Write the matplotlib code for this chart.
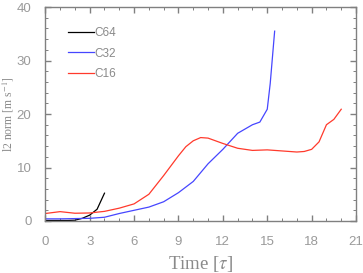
import matplotlib
matplotlib.use("Agg")
import matplotlib.pyplot as plt
from matplotlib.ticker import MultipleLocator

# ---------------- data ----------------
t_c64 = [0, 0.5, 1, 1.5, 2, 2.5, 3, 3.5, 4]
v_c64 = [0.1, 0.1, 0.1, 0.1, 0.15, 0.5, 1.1, 2.2, 5.2]

t_c32 = [0, 1, 2, 3, 4, 5, 6, 7, 8, 9, 10, 11, 12, 13, 14, 14.5, 15, 15.2, 15.5]
v_c32 = [0.4, 0.4, 0.45, 0.5, 0.7, 1.4, 2.0, 2.6, 3.6, 5.3, 7.4, 10.7, 13.4, 16.4, 18.0, 18.5, 20.9, 25.7, 35.5]

t_c16 = [0, 1, 2, 3, 4, 5, 6, 7, 8, 9, 9.5, 10, 10.5, 11, 11.5, 12, 13, 14, 15, 16, 17, 17.5, 18, 18.5, 19, 19.5, 20]
v_c16 = [1.4, 1.75, 1.45, 1.5, 1.8, 2.4, 3.2, 5.0, 8.5, 12.2, 13.9, 15.0, 15.6, 15.5, 15.0, 14.5, 13.6, 13.2,
         13.3, 13.1, 12.9, 13.0, 13.4, 14.8, 18.0, 19.0, 20.9]

x_ticks = [0, 3, 6, 9, 12, 15, 18, 21]
y_ticks = [0, 10, 20, 30, 40]

# ---------------- plot ----------------
plt.rcParams["mathtext.fontset"] = "stix"
grey = "#808080"

fig = plt.figure(figsize=(3.63, 2.73), dpi=100)
ax = fig.add_axes([0.1248, 0.1905, 0.856, 0.7835])

ax.plot(t_c64, v_c64, color="black", lw=0.9, label="C64")
ax.plot(t_c32, v_c32, color="#4646ff", lw=0.9, label="C32")
ax.plot(t_c16, v_c16, color="#ff3a2c", lw=0.9, label="C16")

ax.set_xlim(0, 21)
ax.set_ylim(0, 40)
ax.set_xticks(x_ticks)
ax.set_yticks(y_ticks)
ax.xaxis.set_minor_locator(MultipleLocator(1))
ax.yaxis.set_minor_locator(MultipleLocator(2))

for s in ax.spines.values():
    s.set_color(grey)
    s.set_linewidth(1.0)

ax.tick_params(which="both", direction="in", top=True, right=True, color=grey,
               labelcolor="#9a9a9a", labelsize=9.5)
ax.tick_params(which="major", length=4.5, width=1.0)
ax.tick_params(which="minor", length=2.5, width=0.7)
ax.tick_params(axis="x", pad=11)
ax.tick_params(axis="y", pad=10)
for lab in ax.get_xticklabels() + ax.get_yticklabels():
    lab.set_family("Liberation Sans")

ax.set_xlabel(r"Time [$\tau$]", family="Liberation Serif", fontsize=13.5, color="#8a8a8a", labelpad=4)
ax.set_ylabel(r"l2 norm [m s$^{-1}$]", family="Liberation Serif", fontsize=8.5, color="#8a8a8a")
ax.yaxis.set_label_coords(-0.095, 0.5)

leg = ax.legend(loc="upper left", bbox_to_anchor=(0.04, 0.955), frameon=False, handlelength=2.2,
                handletextpad=0.0, labelspacing=0.7,
                prop={"family": "Liberation Sans", "size": 8.5})
for txt in leg.get_texts():
    txt.set_color("#8a8a8a")

fig.savefig("out.png", dpi=100)
